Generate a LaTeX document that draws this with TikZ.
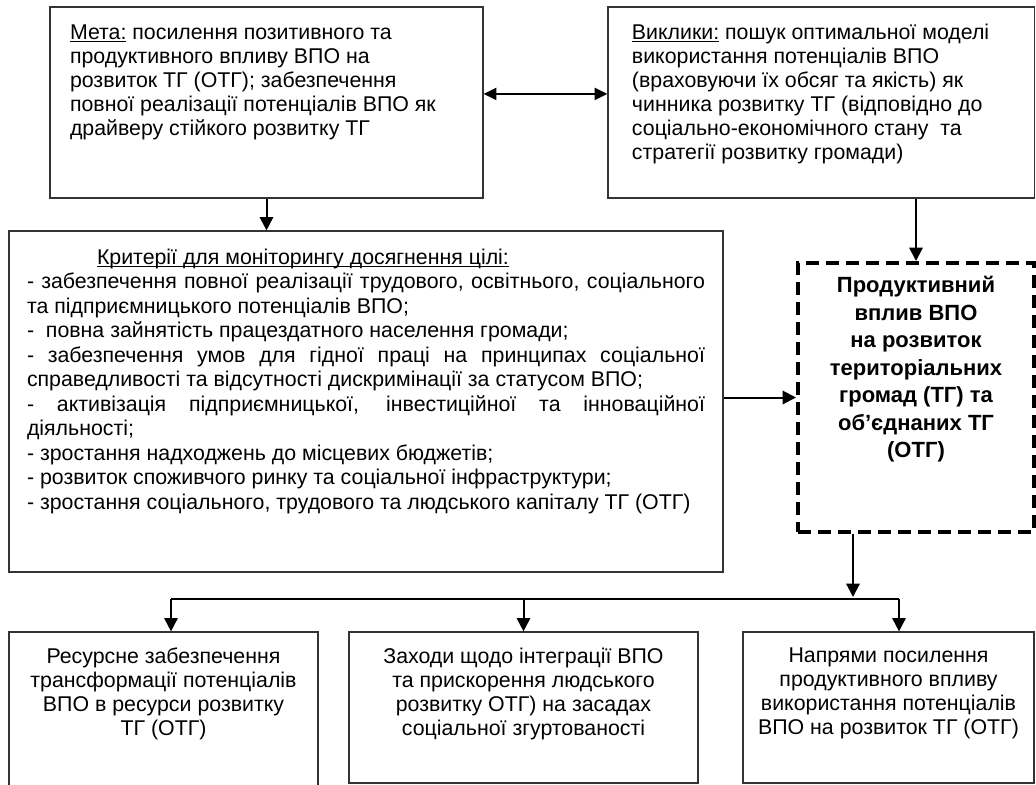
\documentclass[tikz,border=0pt]{standalone}
\usepackage{fontspec}
\setmainfont{Liberation Sans}
\usetikzlibrary{arrows.meta,calc,positioning}

% top-aligned text block of fixed height and width
\newcommand{\boxtext}[3]{\parbox[c][#1][t]{#2}{#3}}
% word-processor style underline (through descenders)
\newcommand{\ulabel}[1]{\leavevmode\sbox0{#1}\rlap{\rule[-2pt]{\wd0}{0.8pt}}\usebox0}

\begin{document}
\begin{tikzpicture}[x=0.75pt,y=-0.75pt,
  box/.style={draw=black!80, line width=0.9pt, rectangle, font=\fontsize{16}{18}\selectfont},
  arr/.style={-{Triangle[length=10pt,width=10pt]}, line width=1.5pt},
  dbl/.style={{Triangle[length=9.5pt,width=9pt]}-{Triangle[length=9.5pt,width=9pt]}, line width=1.5pt},
  ]
  \useasboundingbox (0,0) rectangle (1036,785);
  % Goal and challenges
  \node[box, inner xsep=15pt, inner ysep=13pt] (meta) at (266.5,102.5)
    {\boxtext{117.25pt}{294.75pt}{\raggedright
      \ulabel{Мета:} посилення позитивного та\\
      продуктивного впливу ВПО на\\
      розвиток ТГ (ОТГ); забезпечення\\
      повної реалізації потенціалів ВПО як\\
      драйверу стійкого розвитку ТГ}};
  \node[box, inner xsep=18pt, inner ysep=13pt] (viklyky) at (821.25,102.5)
    {\boxtext{117.25pt}{283.9pt}{\raggedright
      \ulabel{Виклики:} пошук оптимальної моделі\\
      використання потенціалів ВПО\\
      (враховуючи їх обсяг та якість) як\\
      чинника розвитку ТГ (відповідно до\\
      соціально-економічного стану\ \ та\\
      стратегії розвитку громади)}};
  % Monitoring criteria
  \node[box, inner xsep=13.5pt, inner ysep=13.3pt, font=\fontsize{16}{18.4}\selectfont] (krit) at (366,401.5)
    {\boxtext{229.15pt}{508.5pt}{%
      \hspace*{52.5pt}\ulabel{Критерії для моніторингу досягнення цілі:}\\
      \makebox[\linewidth][s]{- забезпечення повної реалізації трудового, освітнього, соціального}\\
      та підприємницького потенціалів ВПО;\\
      -\ \ повна зайнятість працездатного населення громади;\\
      \makebox[\linewidth][s]{- забезпечення умов для гідної праці на принципах соціальної}\\
      справедливості та відсутності дискримінації за статусом ВПО;\\
      \makebox[\linewidth][s]{- активізація підприємницької, інвестиційної та інноваційної}\\
      діяльності;\\
      - зростання надходжень до місцевих бюджетів;\\
      - розвиток споживчого ринку та соціальної інфраструктури;\\
      - зростання соціального, трудового та людського капіталу ТГ (ОТГ)}};
  % Central result
  \node[box, draw=black, line width=3pt, dash pattern=on 10pt off 5pt, inner xsep=5pt, inner ysep=10pt,
    font=\fontsize{16.5}{20.6}\selectfont\bfseries] (vplyv) at (916,397.5)
    {\boxtext{181.75pt}{167pt}{\centering
      Продуктивний\\ вплив ВПО\\ на розвиток\\ територіальних\\ громад (ТГ) та\\ об’єднаних ТГ\\ (ОТГ)}};
  % Directions
  \node[box, inner xsep=5pt, inner ysep=12pt] (res) at (163.5,713.5)
    {\boxtext{98.25pt}{221.75pt}{\centering
      Ресурсне забезпечення\\ трансформації потенціалів\\ ВПО в ресурси розвитку\\ ТГ (ОТГ)}};
  \node[box, inner xsep=5pt, inner ysep=12pt] (zahody) at (523.5,707.5)
    {\boxtext{89.25pt}{251.75pt}{\centering
      Заходи щодо інтеграції ВПО\\ та прискорення людського\\ розвитку ОТГ) на засадах\\ соціальної згуртованості}};
  \node[box, inner xsep=5pt, inner ysep=12pt] (napr) at (888.5,707.5)
    {\boxtext{89.25pt}{208.25pt}{\centering
      Напрями посилення\\ продуктивного впливу\\ використання потенціалів\\ ВПО на розвиток ТГ (ОТГ)}};
  % Connectors
  \draw[dbl] ([yshift=6.4pt]meta.east) -- ([yshift=6.4pt]viklyky.west);
  \draw[arr] (meta.south) -- (meta.south |- krit.north);
  \draw[arr] (vplyv.north |- viklyky.south) -- (vplyv.north);
  \draw[arr] (krit.east |- vplyv.west) -- (vplyv.west);
  \coordinate (split) at (853,597);
  \coordinate (left) at (171,599);
  \coordinate (right) at (899,599);
  \draw[arr] (split |- vplyv.south) -- (split);
  \draw[line width=1.1pt] (left) -- (right);
  \draw[arr] (left) -- (left |- res.north);
  \draw[arr] (zahody.north |- left) -- (zahody.north);
  \draw[arr] (right) -- (right |- napr.north);
\end{tikzpicture}
\end{document}
